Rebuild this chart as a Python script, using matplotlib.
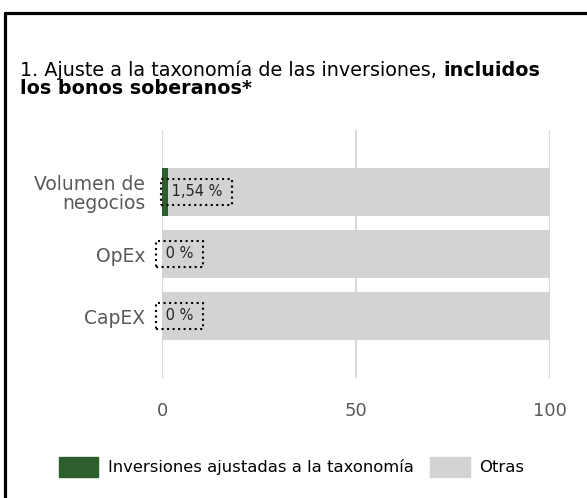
import numpy as np
import matplotlib.pyplot as plt
from matplotlib.lines import Line2D

# Data
categories = ["Volumen de\nnegocios", "OpEx", "CapEX"]
aligned = [1.54, 0.0, 0.0]
others = [98.46, 100.0, 100.0]
value_labels = ["1,54 %", "0 %", "0 %"]
x_ticks = [0, 50, 100]
legend_labels = ["Inversiones ajustadas a la taxonomía", "Otras"]

green = "#2c5f2d"
grey = "#d3d3d3"

plt.rcParams['font.family'] = ['DejaVu Sans']

fig = plt.figure(figsize=(5.87, 4.98), dpi=100)
ax = fig.add_axes([162 / 587, 120 / 498, 388 / 587, 248 / 498])

y = np.arange(len(categories))
ax.barh(y, aligned, height=0.79, color=green, zorder=2)
ax.barh(y, others, left=aligned, height=0.79, color=grey, zorder=2)

# data labels with dotted boxes
for i, (v, lab) in enumerate(zip(aligned, value_labels)):
    ax.annotate(" " + lab + " ", xy=(v, i), xytext=(-1, 0), textcoords='offset points',
                ha='left', va='center', fontsize=10.5, color='#262626', zorder=4,
                bbox=dict(boxstyle='square,pad=0.35', facecolor='none',
                          edgecolor='black', linestyle=':', linewidth=1.5))

ax.set_xlim(0, 100)
ax.set_ylim(3, -1)
ax.set_xticks(x_ticks)
ax.set_yticks(y)
ax.set_yticklabels(categories, fontsize=13.5, color='#595959', linespacing=1.0)
ax.tick_params(axis='x', labelsize=13, labelcolor='#595959', length=0, pad=17)
ax.tick_params(axis='y', length=0, pad=12)
ax.grid(axis='x', color='#d9d9d9', linewidth=1.5, zorder=0)
ax.set_axisbelow(True)
for s in ax.spines.values():
    s.set_visible(False)

# title with bold part
t1 = fig.text(20 / 587, 1 - 76 / 498, "1. Ajuste a la taxonomía de las inversiones, ",
              fontsize=13.8, color='black', ha='left', va='baseline')
fig.canvas.draw()
ax.annotate("incluidos", xy=(1, 0), xycoords=t1, ha='left', va='bottom',
            fontsize=13.8, fontweight='bold', color='black', annotation_clip=False)
fig.text(20 / 587, 1 - 94.5 / 498, "los bonos soberanos*", fontsize=13.8,
         fontweight='bold', color='black', ha='left', va='baseline')

# legend
leg = fig.legend(handles=[plt.Rectangle((0, 0), 1, 1, color=green),
                          plt.Rectangle((0, 0), 1, 1, color=grey)],
                 labels=legend_labels, loc='center', bbox_to_anchor=(0.497, 1 - 467 / 498),
                 ncol=2, frameon=False, fontsize=11.8, handlelength=2.4, handleheight=1.5,
                 columnspacing=1.0, handletextpad=0.6)

# frame lines (top and left)
fig.add_artist(Line2D([3.5 / 587, 1], [1 - 13.5 / 498] * 2, color='black', linewidth=2.3,
                      transform=fig.transFigure, solid_capstyle='butt'))
fig.add_artist(Line2D([4.5 / 587] * 2, [0, 1 - 12 / 498], color='black', linewidth=2.3,
                      transform=fig.transFigure, solid_capstyle='butt'))

fig.savefig('out.png', dpi=100)
